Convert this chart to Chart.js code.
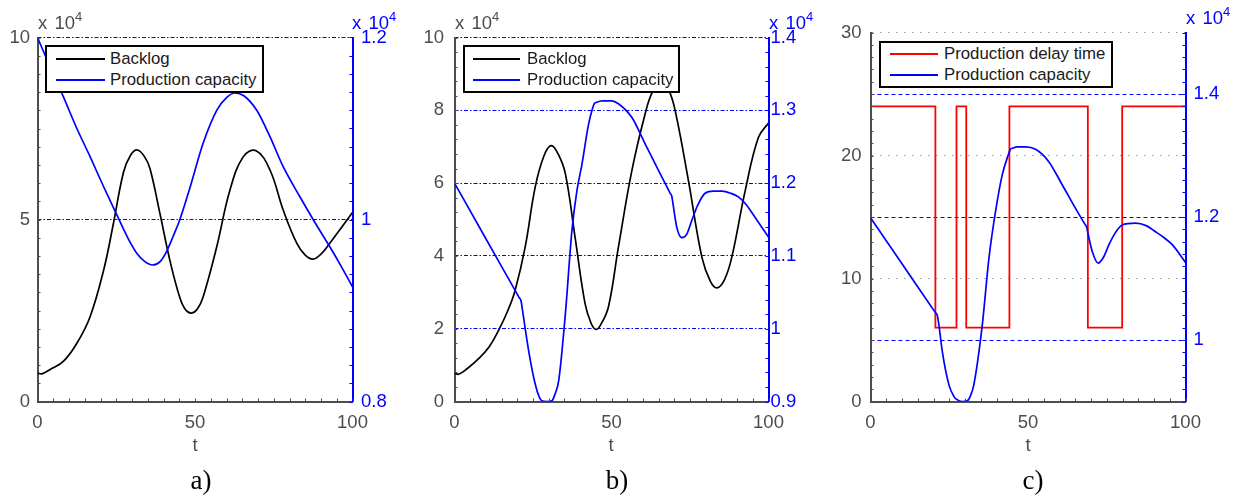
<!DOCTYPE html>
<html><head><meta charset="utf-8">
<script src="https://cdn.jsdelivr.net/npm/chart.js@4.4.1/dist/chart.umd.min.js"></script>
<style>
html,body{margin:0;padding:0;background:#fff;}
body{width:1240px;height:500px;position:relative;overflow:hidden;font-family:"Liberation Sans",Arial,sans-serif;}
canvas{position:absolute;top:0;}
.lab{position:absolute;white-space:nowrap;line-height:20px;}
.exp{font-size:18.5px;word-spacing:2px;}
.exp span{font-size:13px;position:relative;top:-8px;}
.tt{width:40px;text-align:center;font-size:18.5px;color:#4d4d4d;}
.leg{position:absolute;box-sizing:border-box;border:2px solid #000;background:#fff;}
.sw{position:absolute;height:2px;}
.lt{position:absolute;font-size:16.8px;line-height:20px;color:#1a1a1a;white-space:nowrap;}
.cap{position:absolute;width:60px;text-align:center;font-family:"Liberation Serif","DejaVu Serif",serif;font-size:27px;line-height:30px;color:#000;}
</style></head><body>
<canvas id="ca" width="412" height="500" style="left:0px"></canvas>
<canvas id="cb" width="412" height="500" style="left:412px"></canvas>
<canvas id="cc" width="416" height="500" style="left:824px"></canvas>

<div class="lab exp" style="left:38px;top:13px;color:#4d4d4d">x 10<span>4</span></div>
<div class="lab exp" style="left:352px;top:13px;color:#0000ff">x 10<span>4</span></div>
<div class="lab exp" style="left:455px;top:13px;color:#4d4d4d">x 10<span>4</span></div>
<div class="lab exp" style="left:769px;top:13px;color:#0000ff">x 10<span>4</span></div>
<div class="lab exp" style="left:1186px;top:8px;color:#0000ff">x 10<span>4</span></div>

<div class="lab tt" style="left:175px;top:435px">t</div>
<div class="lab tt" style="left:591px;top:435px">t</div>
<div class="lab tt" style="left:1008px;top:435px">t</div>

<div class="cap" style="left:171px;top:465px">a)</div>
<div class="cap" style="left:587px;top:465px">b)</div>
<div class="cap" style="left:1003px;top:465px">c)</div>

<div class="leg" style="left:45px;top:45px;width:219px;height:48px">
  <div class="sw" style="left:9px;top:11px;width:49px;background:#000"></div>
  <div class="lt" style="left:63px;top:2px">Backlog</div>
  <div class="sw" style="left:9px;top:32px;width:49px;background:#0000ff"></div>
  <div class="lt" style="left:63px;top:23px">Production capacity</div>
</div>
<div class="leg" style="left:463px;top:45px;width:217px;height:48px">
  <div class="sw" style="left:8px;top:11px;width:47px;background:#000"></div>
  <div class="lt" style="left:62px;top:2px">Backlog</div>
  <div class="sw" style="left:8px;top:32px;width:47px;background:#0000ff"></div>
  <div class="lt" style="left:62px;top:23px">Production capacity</div>
</div>
<div class="leg" style="left:879px;top:41px;width:234px;height:47px">
  <div class="sw" style="left:9px;top:10px;width:48px;background:#ff0000"></div>
  <div class="lt" style="left:63px;top:1px">Production delay time</div>
  <div class="sw" style="left:9px;top:31px;width:48px;background:#0000ff"></div>
  <div class="lt" style="left:63px;top:22px">Production capacity</div>
</div>

<script>
// ---------- data (values in units of 10^4 where applicable) ----------
const xTickVals = [0, 50, 100];

// Panel a
const tA_backlog = [0, 1.4, 4, 8.2, 12.5, 16.7, 21, 24.1, 27.3, 29.5, 31.7, 34, 35.7, 38.9, 42.1, 45.2, 47, 48.9, 50.8, 52.6, 56.9, 61.1, 65.3, 69.4, 73.8, 78, 82.3, 85, 87.5, 90, 92.8, 96.5, 100];
const backlogA   = [0.78, 0.76, 0.88, 1.10, 1.60, 2.33, 3.61, 4.89, 6.30, 6.76, 6.91, 6.72, 6.40, 5.15, 3.85, 2.85, 2.52, 2.43, 2.55, 2.88, 4.25, 5.81, 6.72, 6.89, 6.36, 5.26, 4.35, 4.02, 3.91, 4.05, 4.35, 4.78, 5.19];
const tA_cap     = [0, 4, 8.2, 12.5, 16.7, 21, 25.2, 28.5, 31.5, 34, 36.5, 39, 41, 43, 45.2, 48.4, 52.6, 56.9, 60, 62.7, 65.5, 69.6, 73.8, 78, 83.3, 87.5, 92.8, 96.5, 100];
const capA       = [1.2, 1.168, 1.135, 1.10, 1.069, 1.036, 1.005, 0.981, 0.963, 0.954, 0.950, 0.954, 0.965, 0.981, 1.0, 1.035, 1.084, 1.120, 1.134, 1.139, 1.136, 1.120, 1.091, 1.058, 1.025, 1.0, 0.970, 0.948, 0.926];
const yTicksA = [0, 5, 10];
const y1TicksA = [0.8, 1.0, 1.2];

// Panel b
const tB_backlog = [0, 1.3, 4, 7.6, 11, 14, 17, 19.3, 22.5, 25.7, 28.5, 30.8, 33, 35.3, 38.4, 41.6, 43.5, 45, 46.5, 49, 52.2, 56.5, 60.7, 63, 65.8, 68.5, 70.5, 74.5, 78.8, 81.5, 83.6, 86, 88.3, 92.6, 96.8, 100];
const backlogB   = [0.78, 0.75, 0.9, 1.17, 1.5, 1.95, 2.5, 3.05, 4.24, 5.89, 6.75, 7.03, 6.8, 6.26, 4.51, 2.68, 2.15, 1.98, 2.1, 2.59, 4.24, 6.35, 7.90, 8.5, 8.8, 8.5, 7.9, 6.07, 3.96, 3.3, 3.12, 3.35, 3.96, 5.80, 7.26, 7.65];
const tB_cap     = [0, 10, 20.6, 21.2, 21.7, 23.6, 25.7, 27, 27.8, 29.5, 31, 32, 33.2, 35.3, 37.4, 39, 40.6, 42.7, 44, 44.5, 45.3, 47, 50, 52.2, 56.5, 60.7, 65, 68.7, 69.2, 69.6, 70.8, 72.4, 74, 75.6, 77.5, 79.8, 82.5, 85.2, 88, 90.4, 93, 95.7, 100];
const capB       = [1.2, 1.1236, 1.0426, 1.038, 1.024, 0.970, 0.924, 0.906, 0.901, 0.9, 0.901, 0.910, 0.929, 1.020, 1.135, 1.19, 1.226, 1.281, 1.303, 1.309, 1.311, 1.313, 1.313, 1.309, 1.29, 1.254, 1.217, 1.186, 1.182, 1.171, 1.139, 1.125, 1.13, 1.149, 1.17, 1.186, 1.189, 1.189, 1.186, 1.181, 1.17, 1.153, 1.126];
const yTicksB = [0, 2, 4, 6, 8, 10];
const y1TicksB = [0.9, 1.0, 1.1, 1.2, 1.3, 1.4];

// Panel c
const tC_delay = [0, 20.6, 27.3, 30.4, 44.1, 69.0, 79.9, 100];
const delayC   = [24, 6, 24, 6, 24, 6, 24, 24];
const tC_cap   = [0, 10, 20.6, 21.2, 21.7, 22.8, 24.9, 26.5, 27.5, 29, 30.7, 31.8, 32.8, 35.5, 37.6, 39.7, 41.8, 43.8, 44.4, 45.2, 46.5, 49.2, 52.4, 56.6, 60.9, 65.1, 68.1, 68.6, 69.1, 70.4, 72.3, 74, 75.7, 77.8, 79.9, 84.1, 87.5, 90.5, 93, 95.8, 100];
const capC     = [1.199, 1.124, 1.0445, 1.04, 1.025, 0.981, 0.927, 0.908, 0.903, 0.9, 0.901, 0.910, 0.927, 1.025, 1.133, 1.209, 1.268, 1.302, 1.31, 1.312, 1.314, 1.314, 1.31, 1.29, 1.252, 1.214, 1.188, 1.184, 1.172, 1.144, 1.125, 1.135, 1.155, 1.175, 1.187, 1.19, 1.186, 1.176, 1.167, 1.155, 1.126];
const yTicksC = [0, 10, 20, 30];
const y1TicksC = [1.0, 1.2, 1.4];

// ---------- helpers ----------
const pts = (xs, ys) => xs.map((x, i) => ({x: x, y: ys[i]}));
const GREY = '#4d4d4d';
const BLUE = '#0000ff';
const GRIDBLUE = '#0000ff';
const tickFont = {family: '"Liberation Sans", Arial, sans-serif', size: 18.5};
const fmt = v => String(+(+v).toFixed(2));
const setTicks = vals => s => { s.ticks = vals.map(v => ({value: v})); };

function makeTicks(list) {
  return {
    id: 'inTicks',
    afterDatasetsDraw(chart) {
      const ctx = chart.ctx, a = chart.chartArea;
      list.forEach(spec => {
        const s = chart.scales[spec.axis];
        const n = Math.round((s.max - s.min) / spec.step);
        ctx.save();
        ctx.strokeStyle = spec.color; ctx.lineWidth = 1; ctx.beginPath();
        for (let i = 0; i <= n; i++) {
          const v = s.min + i * spec.step;
          const p = Math.round(s.getPixelForValue(v)) + 0.5;
          if (spec.axis === 'x') { ctx.moveTo(p, a.bottom); ctx.lineTo(p, a.bottom - 3); }
          else if (spec.axis === 'y') { ctx.moveTo(a.left, p); ctx.lineTo(a.left + 3, p); }
          else { ctx.moveTo(a.right, p); ctx.lineTo(a.right - 3, p); }
        }
        ctx.stroke(); ctx.restore();
      });
    }
  };
}

function build(id, p) {
  return new Chart(document.getElementById(id), {
    type: 'line',
    data: {datasets: p.datasets},
    options: {
      responsive: false, animation: false, devicePixelRatio: 1,
      layout: {padding: {top: p.T, left: 0, right: 0, bottom: 0}},
      plugins: {legend: {display: false}, tooltip: {enabled: false}},
      elements: {point: {radius: 0}},
      scales: {
        x: {
          type: 'linear', min: 0, max: 100,
          afterBuildTicks: setTicks(xTickVals),
          afterFit: s => { s.height = 500 - p.B; },
          grid: {display: false, drawTicks: false},
          border: {color: GREY, width: 2},
          ticks: {font: tickFont, color: GREY, padding: 10.5, callback: fmt, maxRotation: 0, autoSkip: false}
        },
        y: {
          position: 'left', min: p.yR[0], max: p.yR[1],
          afterBuildTicks: setTicks(p.yT),
          afterFit: s => { s.width = p.L - p.CL; },
          grid: {display: p.leftGrid, drawTicks: false, lineWidth: 1,
                 color: c => (c.tick && c.tick.value === p.yR[0]) ? 'rgba(0,0,0,0)' : '#9c9c9c'},
          border: {color: GREY, width: 2, dash: [1.5, 6.5]},
          ticks: {font: tickFont, color: GREY, padding: p.padL, callback: fmt, autoSkip: false}
        },
        y1: {
          position: 'right', min: p.y1R[0], max: p.y1R[1],
          afterBuildTicks: setTicks(p.y1T),
          afterFit: s => { s.width = p.CL + p.CW - p.R; },
          grid: {drawTicks: false, lineWidth: 1,
                 color: c => (c.tick && c.tick.value === p.y1R[0]) ? 'rgba(0,0,0,0)' : GRIDBLUE},
          border: {color: BLUE, width: 2, dash: p.y1Dash},
          ticks: {font: tickFont, color: BLUE, padding: p.padR, callback: fmt, autoSkip: false}
        }
      }
    },
    plugins: [makeTicks([
      {axis: 'x', step: 5, color: GREY},
      {axis: 'y', step: p.yMinor, color: GREY},
      {axis: 'y1', step: 0.02, color: BLUE}
    ])]
  });
}

const smooth = {pointRadius: 0, fill: false, tension: 0.4};
const mono = {pointRadius: 0, fill: false, cubicInterpolationMode: 'monotone'};

build('ca', {
  CL: 0, CW: 412, L: 37.5, R: 352.5, T: 37.5, B: 401.5, padL: 7.5, padR: 8.5,
  yR: [0, 10], yT: yTicksA, yMinor: 0.5, y1R: [0.8, 1.2], y1T: y1TicksA,
  leftGrid: false, y1Dash: [4, 2, 1.5, 2],
  datasets: [
    Object.assign({label: 'Production capacity', data: pts(tA_cap, capA), yAxisID: 'y1', borderColor: BLUE, borderWidth: 1.7}, mono),
    Object.assign({label: 'Backlog', data: pts(tA_backlog, backlogA), yAxisID: 'y', borderColor: '#000', borderWidth: 1.7}, smooth)
  ]
});

build('cb', {
  CL: 412, CW: 412, L: 454.5, R: 768.5, T: 37.5, B: 401.5, padL: 10.5, padR: 2,
  yR: [0, 10], yT: yTicksB, yMinor: 0.4, y1R: [0.9, 1.4], y1T: y1TicksB,
  leftGrid: false, y1Dash: [4, 2, 1.5, 2],
  datasets: [
    Object.assign({label: 'Production capacity', data: pts(tB_cap, capB), yAxisID: 'y1', borderColor: BLUE, borderWidth: 1.7}, mono),
    Object.assign({label: 'Backlog', data: pts(tB_backlog, backlogB), yAxisID: 'y', borderColor: '#000', borderWidth: 1.7}, smooth)
  ]
});

build('cc', {
  CL: 824, CW: 416, L: 870.5, R: 1185.5, T: 32.5, B: 401.5, padL: 9, padR: 8,
  yR: [0, 30], yT: yTicksC, yMinor: 1, y1R: [0.9, 1.5], y1T: y1TicksC,
  leftGrid: true, y1Dash: [4, 3],
  datasets: [
    Object.assign({label: 'Production capacity', data: pts(tC_cap, capC), yAxisID: 'y1', borderColor: BLUE, borderWidth: 1.7}, mono),
    {label: 'Production delay time', data: pts(tC_delay, delayC), yAxisID: 'y', borderColor: '#ff0000', borderWidth: 1.8, stepped: 'before', pointRadius: 0, fill: false}
  ]
});
</script>
</body></html>
